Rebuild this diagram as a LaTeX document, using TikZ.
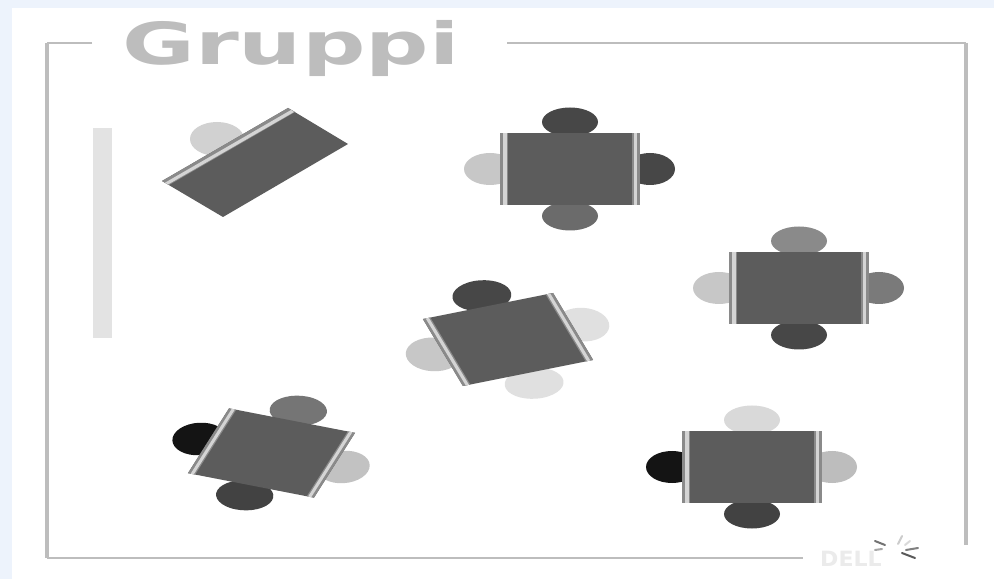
\documentclass[tikz,border=0pt]{standalone}
\usepackage{fontspec}
\setmainfont{DejaVu Sans}
\definecolor{bgblue}{HTML}{EDF3FC}
\definecolor{frameg}{HTML}{BDBDBD}
\definecolor{tabletop}{HTML}{5C5C5C}
\definecolor{stripo}{HTML}{8A8A8A}
\definecolor{stripi}{HTML}{D4D4D4}
\definecolor{barg}{HTML}{E3E3E3}
\tikzset{
  framehoriz/.style={draw=frameg,line width=2.6pt},
  framevert/.style={draw=frameg,line width=4pt},
  spinstroke/.style={line width=2pt,line cap=round},
}
\newcommand{\chairfactor}{1}
% #1 matrix a,b,c,d  #2 centre  #3..#6 chair colours top,left,right,bottom
\newcommand{\tablegroup}[6]{%
\begin{scope}[cm={#1,(#2)}]
  \fill[#3] (0,-47) ellipse [x radius=28*\chairfactor,y radius=14.5*\chairfactor];
  \fill[#6] (0,47) ellipse [x radius=28*\chairfactor,y radius=14.5*\chairfactor];
  \fill[#4] (-80,0) ellipse [x radius=26*\chairfactor,y radius=16*\chairfactor];
  \fill[#5] (80,0) ellipse [x radius=25*\chairfactor,y radius=16*\chairfactor];
  \fill[tabletop] (-70,-36) rectangle (70,36);
  \fill[stripo] (-70,-36) rectangle (-62,36);
  \fill[stripi] (-67,-36) rectangle (-63.5,36);
  \fill[stripo] (70,-36) rectangle (62,36);
  \fill[stripi] (67,-36) rectangle (63.5,36);
\end{scope}}
\begin{document}
\begin{tikzpicture}[x=1pt,y=1pt]
\useasboundingbox (0,0) rectangle (994,579);
\fill[bgblue] (0,0) rectangle (994,579);
\fill[white] (12,0) rectangle (994,571);
\node[anchor=base west,inner sep=0pt,xscale=1.53,text=frameg,font=\fontsize{58}{58}\selectfont\bfseries] (title) at (122,514) {Gruppi};
\begin{scope}[yscale=-1,yshift=-579pt]
  \coordinate (f1) at (92,43); \coordinate (f2) at (47,43); \coordinate (f3) at (47,558);
  \coordinate (f4) at (803,558); \coordinate (f5) at (507,43); \coordinate (f6) at (966,43);
  \coordinate (f7) at (966,545);
  \draw[framehoriz] (f1) -- (f2);
  \draw[framehoriz] (f3) -- (f4);
  \draw[framehoriz] (f5) -- (f6);
  \draw[framevert] (f2) -- (f3);
  \draw[framevert] (f6) -- (f7);
  \fill[barg] (93,128) rectangle (112,338);
  % angled table with one visible chair
  \fill[frameg!70!white] (217,139) ellipse [x radius=27,y radius=17];
  \fill[tabletop] (288,108) -- (348,144) -- (223,217) -- (162,181) -- cycle;
  \fill[stripo] (288,108) -- (295,112) -- (169,185) -- (162,181) -- cycle;
  \fill[stripi] (291,110) -- (294,112) -- (168,184.5) -- (165,182.7) -- cycle;
  \tablegroup{1,0,0,1}{570pt,169pt}{black!72}{black!22}{black!72}{black!58}
  \tablegroup{1,0,0,1}{799pt,288pt}{black!46}{black!22}{black!52}{black!72}
  \tablegroup{1,0,0,1}{752pt,467pt}{black!15}{black!92}{black!26}{black!74}
  \renewcommand{\chairfactor}{1.08}
  \tablegroup{.93,-.186,.556,.93}{508pt,339.5pt}{black!72}{black!22}{black!12}{black!12}
  \tablegroup{.9,.175,-.57,.9}{271.5pt,453pt}{black!54}{black!92}{black!24}{black!74}
  % spinner
  \foreach \xa/\ya/\xb/\yb/\c in {875/541/885/545/55,875/550/882/549/35,898/544/902/536/20,905/545/910/541/15,906/550/918/548/50,902/553/915/558/65}{
    \draw[spinstroke,black!\c] (\xa,\ya) -- (\xb,\yb);
  }
\end{scope}
\node[anchor=base west,inner sep=0pt,xscale=1.05,text=black!8,font=\fontsize{21}{21}\selectfont\bfseries] (logo) at (820,13) {DELL};
\end{tikzpicture}
\end{document}
